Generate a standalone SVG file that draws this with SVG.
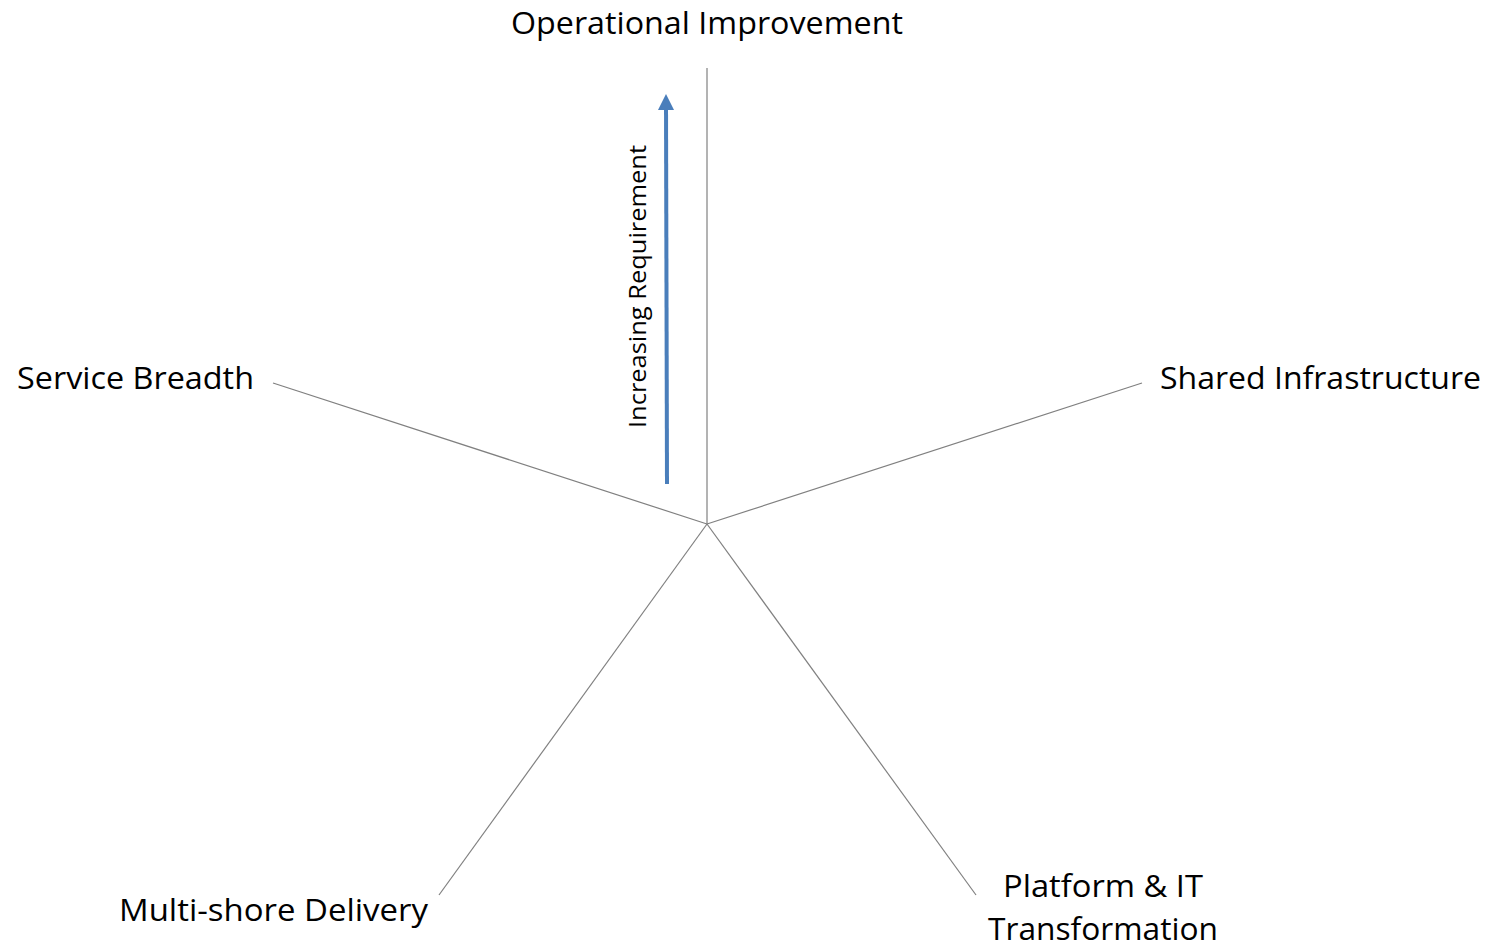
<svg xmlns="http://www.w3.org/2000/svg" width="1495" height="947" viewBox="0 0 1495 947">
<style>
.axis{stroke:#808080;stroke-width:1.2;fill:none}
.lbl{font-family:"Open Sans","Liberation Sans",sans-serif;font-size:31px;fill:#000}
</style>
<defs>
<marker id="ah" markerWidth="4" markerHeight="4" refX="2" refY="2" orient="auto" markerUnits="strokeWidth">
<path d="M0,0 L4,2 L0,4 Z" fill="#4a7ebb"/>
</marker>
</defs>
<rect width="1495" height="947" fill="#fff"/>
<g id="connectors">
<line class="axis" x1="707" y1="524" x2="707" y2="68"/>
<line class="axis" x1="707" y1="524" x2="273" y2="383"/>
<line class="axis" x1="707" y1="524" x2="1142" y2="383"/>
<line class="axis" x1="707" y1="524" x2="439" y2="895"/>
<line class="axis" x1="707" y1="524" x2="976" y2="895"/>
<line x1="667" y1="484" x2="666" y2="102" stroke="#4a7ebb" stroke-width="4" marker-end="url(#ah)"/>
</g>
<g id="operational"><text class="lbl" x="511" y="34" textLength="392" lengthAdjust="spacingAndGlyphs">Operational Improvement</text></g>
<g id="service"><text class="lbl" x="17" y="389" textLength="237" lengthAdjust="spacingAndGlyphs">Service Breadth</text></g>
<g id="shared"><text class="lbl" x="1160" y="389" textLength="321" lengthAdjust="spacingAndGlyphs">Shared Infrastructure</text></g>
<g id="multishore"><text class="lbl" x="119" y="921" textLength="309" lengthAdjust="spacingAndGlyphs">Multi-shore Delivery</text></g>
<g id="platform"><text class="lbl" x="1003" y="897" textLength="200" lengthAdjust="spacingAndGlyphs">Platform &amp; IT</text><text class="lbl" x="988" y="940" textLength="230" lengthAdjust="spacingAndGlyphs">Transformation</text></g>
<g id="increasing"><text class="lbl" style="font-size:24px" transform="translate(646,428) rotate(-90)" textLength="283" lengthAdjust="spacingAndGlyphs">Increasing Requirement</text></g>
</svg>
